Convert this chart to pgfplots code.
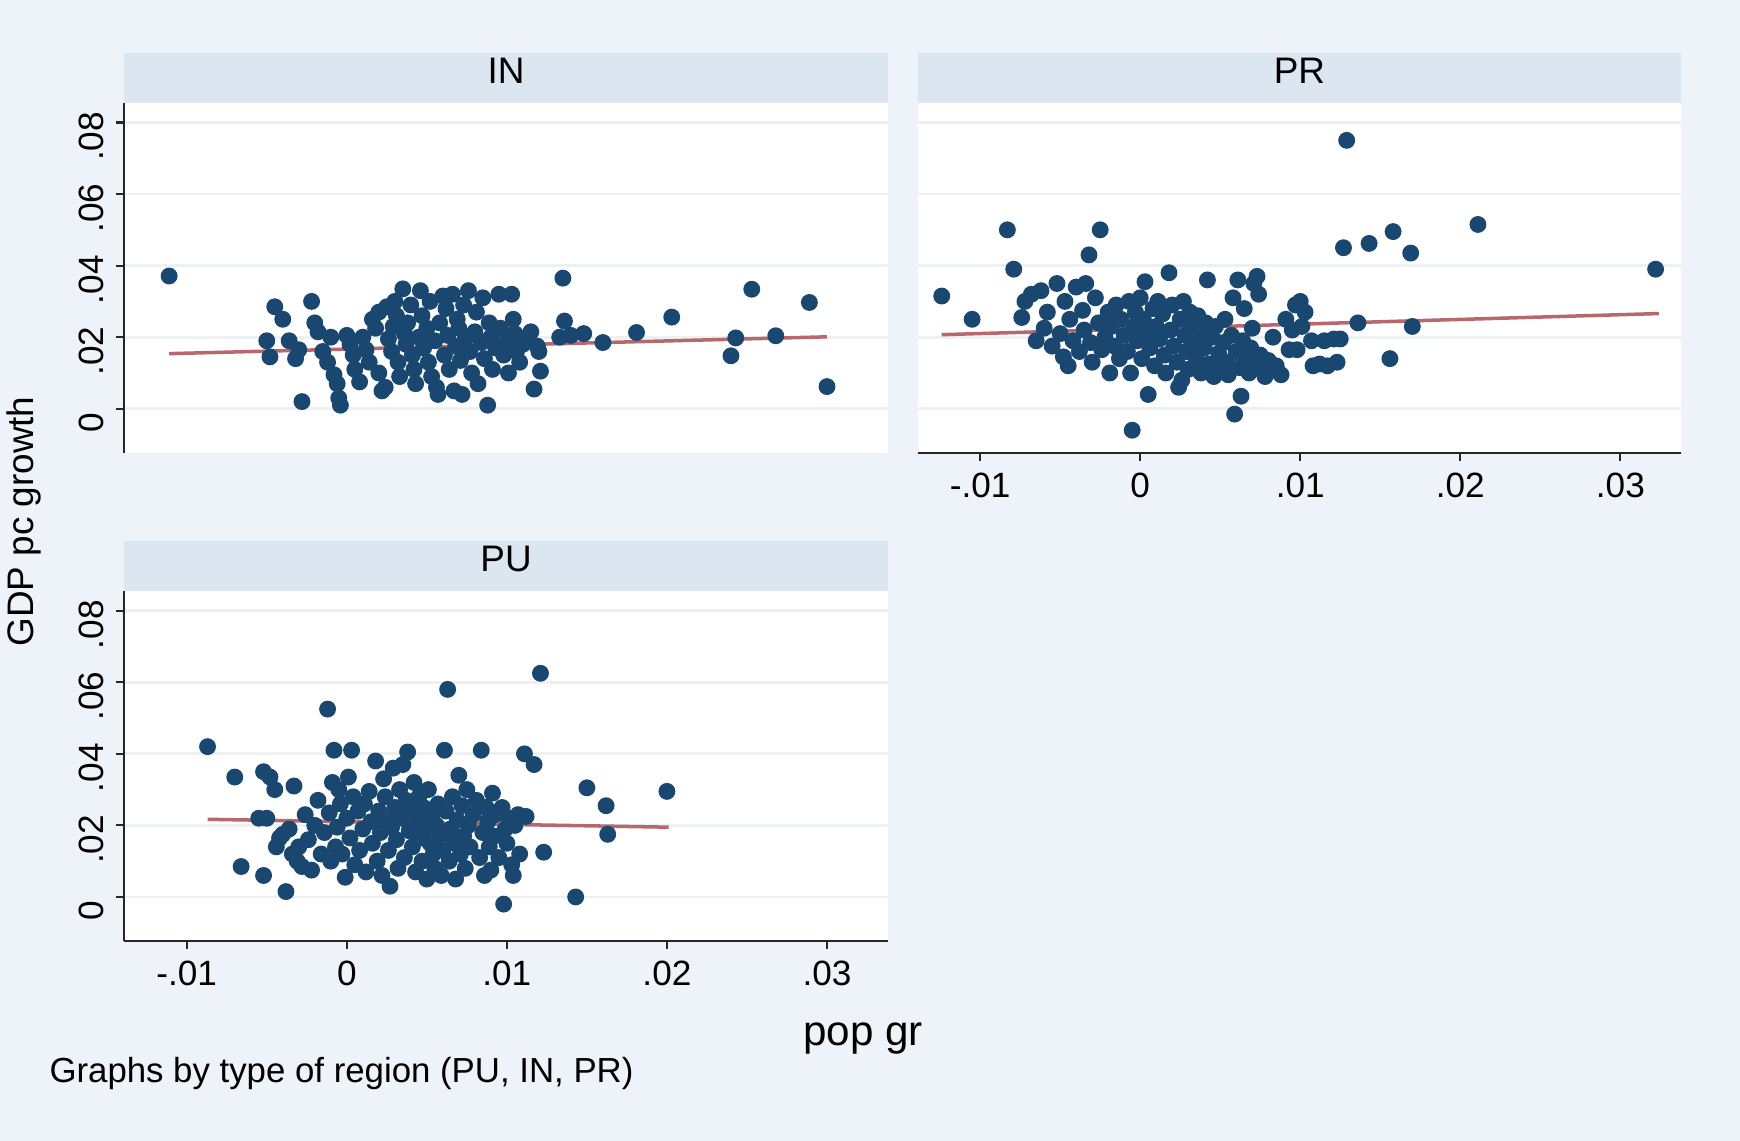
\documentclass[border=0pt]{standalone}
\usepackage{pgfplots}
\pgfplotsset{compat=1.18}
\usepackage{fontspec}
\setmainfont{Liberation Sans}

\definecolor{bgcol}{HTML}{EEF2F9}
\definecolor{stripcol}{HTML}{DCE6F1}
\definecolor{gridcol}{HTML}{EDF1F2}
\definecolor{dotcol}{HTML}{1A476F}
\definecolor{fitcol}{HTML}{B8686C}

% IN regions: population growth vs GDP per capita growth
\pgfplotstableread{
x y
-0.0111 0.0371
-0.0050 0.0190
-0.0048 0.0145
-0.0045 0.0285
-0.0040 0.0250
-0.0036 0.0190
-0.0032 0.0140
-0.0030 0.0165
-0.0028 0.0020
-0.0022 0.0300
-0.0020 0.0240
-0.0018 0.0215
-0.0015 0.0160
-0.0012 0.0130
-0.0010 0.0200
-0.0008 0.0095
-0.0006 0.0070
-0.0005 0.0030
-0.0004 0.0010
0.0000 0.0205
0.0002 0.0180
0.0004 0.0150
0.0005 0.0110
0.0008 0.0075
0.0010 0.0200
0.0012 0.0165
0.0014 0.0130
0.0016 0.0250
0.0018 0.0225
0.0020 0.0270
0.0020 0.0100
0.0022 0.0050
0.0024 0.0060
0.0025 0.0285
0.0026 0.0195
0.0028 0.0160
0.0029 0.0230
0.0030 0.0300
0.0031 0.0260
0.0032 0.0130
0.0033 0.0090
0.0035 0.0335
0.0036 0.0210
0.0037 0.0180
0.0038 0.0240
0.0040 0.0290
0.0041 0.0150
0.0042 0.0110
0.0043 0.0070
0.0045 0.0200
0.0046 0.0330
0.0047 0.0260
0.0048 0.0170
0.0050 0.0225
0.0051 0.0130
0.0052 0.0300
0.0053 0.0090
0.0055 0.0190
0.0056 0.0060
0.0057 0.0040
0.0058 0.0240
0.0060 0.0315
0.0061 0.0150
0.0062 0.0280
0.0063 0.0205
0.0064 0.0110
0.0066 0.0320
0.0067 0.0050
0.0068 0.0175
0.0069 0.0250
0.0070 0.0225
0.0071 0.0135
0.0072 0.0040
0.0073 0.0290
0.0074 0.0195
0.0076 0.0330
0.0077 0.0160
0.0078 0.0100
0.0080 0.0215
0.0081 0.0270
0.0082 0.0070
0.0084 0.0185
0.0085 0.0310
0.0086 0.0140
0.0088 0.0010
0.0089 0.0240
0.0090 0.0200
0.0091 0.0110
0.0093 0.0170
0.0095 0.0320
0.0096 0.0225
0.0098 0.0150
0.0100 0.0190
0.0101 0.0100
0.0103 0.0320
0.0104 0.0250
0.0105 0.0210
0.0106 0.0160
0.0108 0.0130
0.0110 0.0180
0.0113 0.0200
0.0115 0.0215
0.0117 0.0055
0.0119 0.0175
0.0120 0.0160
0.0121 0.0105
0.0133 0.0200
0.0135 0.0365
0.0136 0.0245
0.0140 0.0205
0.0148 0.0210
0.0160 0.0185
0.0181 0.0213
0.0203 0.0256
0.0240 0.0148
0.0243 0.0198
0.0253 0.0334
0.0268 0.0204
0.0289 0.0297
0.0300 0.0062
}\dataIN

% PR regions
\pgfplotstableread{
x y
-0.0124 0.0315
-0.0105 0.0250
-0.0083 0.0500
-0.0079 0.0390
-0.0074 0.0255
-0.0072 0.0300
-0.0068 0.0320
-0.0065 0.0190
-0.0062 0.0330
-0.0060 0.0225
-0.0058 0.0270
-0.0055 0.0175
-0.0052 0.0350
-0.0050 0.0210
-0.0048 0.0145
-0.0047 0.0300
-0.0045 0.0120
-0.0044 0.0250
-0.0042 0.0190
-0.0040 0.0340
-0.0038 0.0160
-0.0036 0.0275
-0.0035 0.0220
-0.0034 0.0350
-0.0032 0.0430
-0.0031 0.0185
-0.0030 0.0130
-0.0028 0.0310
-0.0026 0.0240
-0.0025 0.0500
-0.0024 0.0165
-0.0022 0.0200
-0.0020 0.0270
-0.0019 0.0100
-0.0018 0.0230
-0.0016 0.0175
-0.0015 0.0290
-0.0013 0.0140
-0.0012 0.0250
-0.0010 0.0205
-0.0008 0.0160
-0.0007 0.0300
-0.0006 0.0100
-0.0005 -0.0060
-0.0004 0.0230
-0.0003 0.0270
-0.0002 0.0190
0.0000 0.0310
0.0001 0.0140
0.0002 0.0250
0.0003 0.0355
0.0004 0.0210
0.0005 0.0040
0.0006 0.0170
0.0008 0.0280
0.0009 0.0120
0.0010 0.0230
0.0011 0.0300
0.0012 0.0195
0.0014 0.0265
0.0015 0.0150
0.0016 0.0100
0.0018 0.0380
0.0019 0.0220
0.0020 0.0290
0.0021 0.0175
0.0023 0.0130
0.0024 0.0060
0.0025 0.0250
0.0026 0.0080
0.0027 0.0300
0.0028 0.0205
0.0029 0.0160
0.0030 0.0110
0.0031 0.0270
0.0032 0.0230
0.0034 0.0185
0.0035 0.0140
0.0036 0.0260
0.0038 0.0100
0.0039 0.0215
0.0040 0.0170
0.0041 0.0240
0.0042 0.0360
0.0043 0.0125
0.0045 0.0200
0.0046 0.0090
0.0047 0.0230
0.0049 0.0155
0.0050 0.0110
0.0052 0.0185
0.0053 0.0250
0.0054 0.0130
0.0055 0.0095
0.0057 0.0205
0.0058 0.0310
0.0059 -0.0015
0.0060 0.0160
0.0061 0.0360
0.0062 0.0115
0.0063 0.0035
0.0064 0.0190
0.0065 0.0280
0.0066 0.0140
0.0068 0.0100
0.0069 0.0170
0.0070 0.0225
0.0071 0.0350
0.0072 0.0120
0.0073 0.0370
0.0074 0.0320
0.0075 0.0150
0.0077 0.0105
0.0078 0.0090
0.0080 0.0135
0.0083 0.0200
0.0085 0.0120
0.0088 0.0095
0.0091 0.0250
0.0093 0.0165
0.0095 0.0220
0.0097 0.0290
0.0098 0.0165
0.0100 0.0300
0.0101 0.0230
0.0103 0.0270
0.0107 0.0190
0.0108 0.0120
0.0112 0.0125
0.0115 0.0190
0.0117 0.0120
0.0121 0.0195
0.0123 0.0130
0.0125 0.0195
0.0127 0.0450
0.0129 0.0750
0.0136 0.0240
0.0143 0.0462
0.0156 0.0140
0.0158 0.0495
0.0169 0.0435
0.0170 0.0230
0.0211 0.0515
0.0322 0.0390
}\dataPR

% PU regions
\pgfplotstableread{
x y
-0.0087 0.0420
-0.0070 0.0335
-0.0066 0.0085
-0.0055 0.0220
-0.0052 0.0350
-0.0052 0.0060
-0.0050 0.0220
-0.0048 0.0335
-0.0045 0.0300
-0.0044 0.0140
-0.0042 0.0165
-0.0040 0.0175
-0.0038 0.0015
-0.0036 0.0190
-0.0034 0.0120
-0.0033 0.0310
-0.0031 0.0100
-0.0030 0.0140
-0.0028 0.0085
-0.0026 0.0230
-0.0024 0.0160
-0.0022 0.0075
-0.0020 0.0200
-0.0018 0.0270
-0.0016 0.0120
-0.0014 0.0180
-0.0012 0.0525
-0.0011 0.0235
-0.0010 0.0100
-0.0009 0.0320
-0.0008 0.0410
-0.0007 0.0140
-0.0006 0.0195
-0.0005 0.0300
-0.0004 0.0260
-0.0003 0.0120
-0.0001 0.0055
0.0000 0.0220
0.0001 0.0335
0.0002 0.0165
0.0003 0.0410
0.0004 0.0280
0.0005 0.0090
0.0007 0.0240
0.0008 0.0130
0.0010 0.0190
0.0011 0.0260
0.0012 0.0070
0.0014 0.0295
0.0015 0.0210
0.0016 0.0150
0.0018 0.0380
0.0019 0.0100
0.0020 0.0240
0.0021 0.0180
0.0022 0.0060
0.0023 0.0330
0.0024 0.0280
0.0025 0.0215
0.0026 0.0130
0.0027 0.0030
0.0028 0.0195
0.0029 0.0360
0.0030 0.0250
0.0031 0.0160
0.0032 0.0080
0.0033 0.0300
0.0034 0.0220
0.0035 0.0370
0.0036 0.0110
0.0037 0.0270
0.0038 0.0405
0.0039 0.0185
0.0040 0.0240
0.0041 0.0140
0.0042 0.0320
0.0043 0.0070
0.0044 0.0210
0.0045 0.0280
0.0046 0.0165
0.0047 0.0100
0.0048 0.0250
0.0049 0.0190
0.0050 0.0050
0.0051 0.0300
0.0052 0.0150
0.0053 0.0225
0.0054 0.0120
0.0055 0.0080
0.0056 0.0200
0.0057 0.0260
0.0058 0.0170
0.0059 0.0060
0.0060 0.0130
0.0061 0.0410
0.0062 0.0240
0.0063 0.0580
0.0064 0.0100
0.0065 0.0190
0.0066 0.0280
0.0067 0.0150
0.0068 0.0050
0.0069 0.0215
0.0070 0.0340
0.0071 0.0120
0.0072 0.0255
0.0073 0.0170
0.0074 0.0080
0.0075 0.0300
0.0076 0.0200
0.0077 0.0140
0.0079 0.0230
0.0081 0.0270
0.0083 0.0110
0.0084 0.0410
0.0085 0.0180
0.0086 0.0060
0.0087 0.0250
0.0088 0.0210
0.0089 0.0140
0.0090 0.0075
0.0091 0.0290
0.0092 0.0170
0.0093 0.0230
0.0095 0.0110
0.0097 0.0250
0.0098 -0.0020
0.0099 0.0190
0.0100 0.0150
0.0101 0.0220
0.0103 0.0090
0.0104 0.0060
0.0105 0.0200
0.0107 0.0230
0.0108 0.0120
0.0111 0.0400
0.0112 0.0225
0.0117 0.0370
0.0121 0.0625
0.0123 0.0125
0.0143 0.0000
0.0150 0.0305
0.0162 0.0255
0.0163 0.0175
0.0200 0.0295
}\dataPU

\pgfplotsset{
  panel/.style={
    scale only axis,
    width=76.35mm, height=35mm,
    xmin=-0.0139, xmax=0.0338,
    ymin=-0.0123, ymax=0.0855,
    scaled ticks=false,
    axis lines*=left,
    axis line style={-, black!85, line width=0.6pt},
    tick align=outside,
    major tick length=0.8mm,
    tick style={black!85, line width=0.6pt},
    xtick={-0.01,0,0.01,0.02,0.03},
    xticklabels={-.01,0,.01,.02,.03},
    ytick={0,0.02,0.04,0.06,0.08},
    yticklabels={0,.02,.04,.06,.08},
    ymajorgrids,
    grid style={gridcol, line width=0.8pt},
    axis background/.style={fill=white},
    ticklabel style={font=\fontsize{10}{12}\selectfont},
    yticklabel style={rotate=90, anchor=south, xshift=-1.4mm},
    xticklabel style={yshift=0mm},
    clip=false,
  },
  dots/.style={only marks, mark=*, mark size=2.2pt,
    mark options={fill=dotcol, draw=dotcol}},
  fit/.style={no marks, fitcol, line width=1pt},
  noxaxis/.style={x axis line style={draw=none}, xtick style={draw=none}, xticklabels={}},
  noyaxis/.style={y axis line style={draw=none}, ytick style={draw=none}, yticklabels={}},
}

\begin{document}
\begin{tikzpicture}
  % page background
  \fill[bgcol] (0mm,0mm) rectangle (174mm,114.1mm);

  % IN panel
  \begin{axis}[panel, noxaxis, at={(12.43mm,68.82mm)}, anchor=south west, name=pIN]
    \addplot[dots] table[x=x, y=y] {\dataIN};
    \addplot[fit] coordinates {(-0.0111,0.0154) (0.0300,0.0201)};
  \end{axis}

  % PR panel
  \begin{axis}[panel, noyaxis, at={(91.77mm,68.82mm)}, anchor=south west, name=pPR]
    \addplot[dots] table[x=x, y=y] {\dataPR};
    \addplot[fit] coordinates {(-0.0124,0.0207) (0.0324,0.0266)};
  \end{axis}

  % PU panel
  \begin{axis}[panel, at={(12.43mm,20mm)}, anchor=south west, name=pPU]
    \addplot[dots] table[x=x, y=y] {\dataPU};
    \addplot[fit] coordinates {(-0.0087,0.0217) (0.0201,0.0195)};
  \end{axis}

  % panel header strips
  \foreach \p/\t in {pIN/IN, pPR/PR, pPU/PU} {
    \fill[stripcol] (\p.north west) rectangle ([yshift=5mm]\p.north east);
    \node[font=\fontsize{10.5}{12}\selectfont] at ([yshift=3.2mm]\p.north) {\t};
  }

  % shared titles and note
  \node[font=\fontsize{12}{14}\selectfont, inner sep=0pt] at (86.3mm,10.2mm) {pop gr};
  \node[font=\fontsize{10.5}{12}\selectfont, rotate=90, inner sep=0pt] at (2.44mm,61.94mm) {GDP pc growth};
  \node[font=\fontsize{9.9}{12}\selectfont, anchor=west, inner sep=0pt] at (4.88mm,6.7mm) {Graphs by type of region (PU, IN, PR)};
\end{tikzpicture}
\end{document}
